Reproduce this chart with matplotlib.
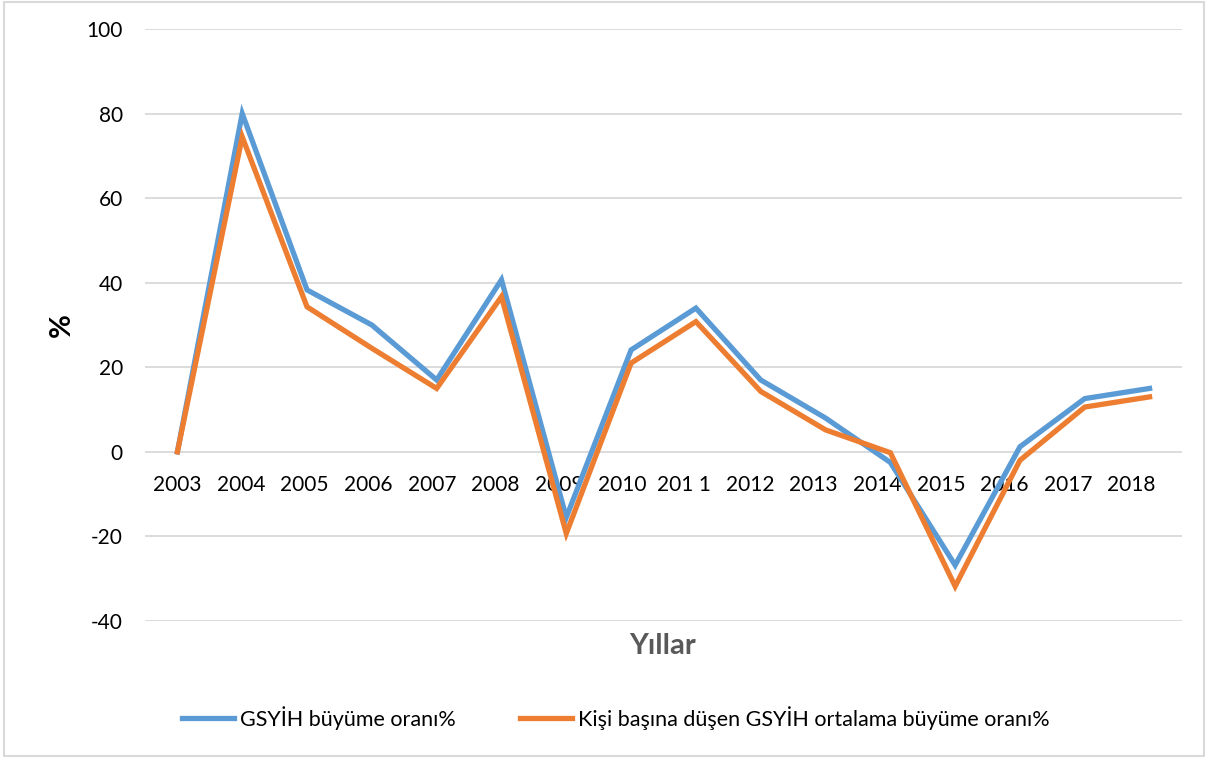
import numpy as np
import matplotlib.pyplot as plt
from matplotlib.transforms import ScaledTranslation

plt.rcParams['font.family'] = ['Lato', 'DejaVu Sans']
plt.rcParams['axes.unicode_minus'] = False

years = ['2003', '2004', '2005', '2006', '2007', '2008', '2009', '2010',
         '201 1 ', '2012', '2013', '2014', '2015', '2016', '2017', '2018']
gsyih = [0, 80, 38.3, 30, 17, 40.7, -15.5, 24.1, 34, 17, 8, -2.5, -26.8, 1.2, 12.6, 15]
kisi_basi = [0, 74.5, 34.3, 24.5, 15, 36.7, -19.3, 21, 30.8, 14.3, 5.2, -0.2, -31.8, -2, 10.6, 13]

blue = '#5B9BD5'
orange = '#ED7D31'

fig = plt.figure(figsize=(12.08, 7.58), dpi=100)
ax = fig.add_axes([145/1208, 1 - 621/758, (1182-145)/1208, (621-29)/758])

x = np.arange(len(years))
ax.plot(x, gsyih, color=blue, lw=3.8, solid_joinstyle='miter', label='GSYİH büyüme oranı%')
ax.plot(x, kisi_basi, color=orange, lw=3.8, solid_joinstyle='miter',
        label='Kişi başına düşen GSYİH ortalama büyüme oranı%')

ax.set_xlim(-0.5, len(years) - 0.5)
ax.set_ylim(-40, 100)
ax.set_yticks(np.arange(-40, 101, 20))
ax.grid(axis='y', color='#d9d9d9', lw=1.3)
ax.set_axisbelow(True)
for s in ['top', 'right', 'left']:
    ax.spines[s].set_visible(False)
ax.spines['bottom'].set_position(('data', 0))
ax.spines['bottom'].set_color('none')

ax.set_xticks(x)
ax.set_xticklabels(years, fontsize=15)
ax.tick_params(axis='x', length=0, pad=17)
ax.tick_params(axis='y', length=0, pad=16, labelsize=15)

# excel-ish label drift to the left
for i, lbl in enumerate(ax.get_xticklabels()):
    lbl.set_transform(lbl.get_transform() + ScaledTranslation(-1.2 * i / 100, 0, fig.dpi_scale_trans))

fig.text(62/1208, 1 - 325/758, '%', rotation=90, ha='center', va='center',
         fontsize=21, fontweight='bold')
fig.text(663/1208, 1 - 646/758, 'Yıllar', ha='center', va='center',
         fontsize=21, fontweight='bold', color='#595959')

fig.legend(loc='center', bbox_to_anchor=(616/1208, 1 - 718/758), ncol=2, frameon=False,
           fontsize=15.5, handlelength=2.4, columnspacing=3.0, handletextpad=0.3)

border = plt.Rectangle((0.003, 0.003), 0.994, 0.994, transform=fig.transFigure,
                       fill=False, edgecolor='#d9d9d9', lw=1.5)
fig.patches.append(border)

fig.savefig('out.png', dpi=100)
